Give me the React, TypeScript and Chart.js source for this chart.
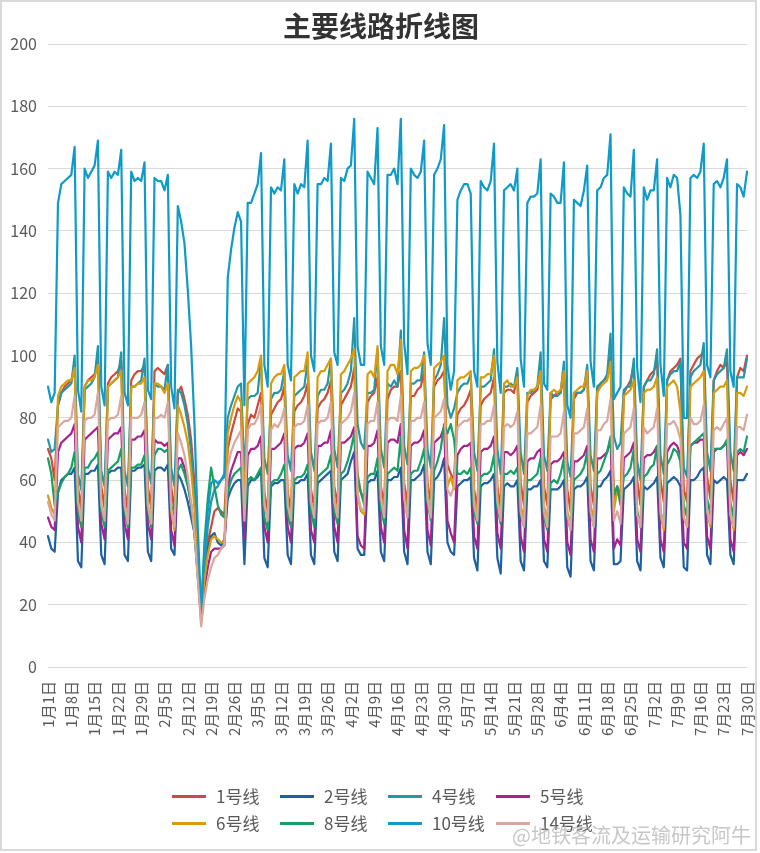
import React, { useEffect, useRef } from "react";
import { Chart, registerables } from "chart.js";

Chart.register(...registerables);

// ---- categories (daily, 1月1日 … 7月30日) ----
const MONTH_DAYS = [31, 28, 31, 30, 31, 30, 30];
const TICK_STEP = 7;
const CATEGORIES: string[] = [];
MONTH_DAYS.forEach((n, m) => {
  for (let d = 1; d <= n; d++) CATEGORIES.push(`${m + 1}月${d}日`);
});

const SERIES_NAMES = ["1号线", "2号线", "4号线", "5号线", "6号线", "8号线", "10号线", "14号线"];
const SERIES_COLORS = ["#CD4A3E", "#1E60A0", "#2496A6", "#A4238E", "#D99A0B", "#16A067", "#0F9AC8", "#D8A89E"];

// ---- series values (万人次) ----
const LINE_1 = [
  70, 67, 60, 84, 88, 90, 91, 92, 96, 58, 50,
  90, 92, 93, 94, 98, 58, 51,
  91, 93, 94, 95, 98, 57, 50,
  92, 94, 95, 95, 97, 58, 51,
  95, 96, 95, 94, 97, 58, 50,
  88, 90, 86, 81, 73, 59, 37, 17,
  33, 40, 45, 50, 51, 50, 49,
  70, 75, 79, 83, 82, 52,
  78, 81, 80, 84, 88, 56, 50,
  81, 83, 85, 86, 90, 56, 50,
  82, 84, 85, 87, 91, 57, 51,
  83, 85, 86, 88, 92, 58, 52,
  84, 86, 88, 90, 96, 62, 56, 54,
  85, 87, 88, 93, 58, 52,
  86, 89, 90, 90, 95, 59, 52,
  87, 87, 89, 90, 95, 59, 53,
  90, 92, 93, 95, 65, 62, 60,
  81, 83, 84, 86, 89, 57, 51,
  84, 86, 87, 88, 93, 58, 51,
  88, 89, 89, 88, 94, 59, 52,
  85, 87, 88, 89, 95, 58, 52,
  86, 87, 88, 88, 94, 57, 50,
  86, 88, 88, 89, 95, 58, 52,
  89, 91, 92, 93, 100, 54, 58, 55,
  88, 90, 92, 97, 60, 52,
  90, 92, 94, 95, 98, 60, 53,
  92, 95, 96, 97, 99, 57, 53,
  95, 97, 99, 100, 101, 61, 54,
  92, 95, 97, 96, 98, 60, 53,
  93, 96, 95, 100,
];

const LINE_2 = [
  42, 38, 37, 56, 60, 61, 62, 62, 64, 34, 32,
  62, 62, 63, 63, 65, 36, 33,
  62, 63, 63, 64, 64, 36, 34,
  63, 63, 64, 64, 65, 37, 34,
  63, 64, 64, 63, 65, 38, 36,
  62, 60, 57, 53, 48, 43, 32, 17,
  32, 38, 42, 43, 40, 39, 41,
  54, 57, 59, 60, 60, 33,
  58, 60, 60, 61, 63, 35, 32,
  58, 59, 59, 60, 60, 36, 33,
  59, 59, 60, 60, 62, 36, 33,
  59, 60, 61, 62, 63, 37, 34,
  60, 61, 62, 66, 69, 38, 36, 36,
  59, 60, 60, 63, 37, 34,
  60, 60, 61, 61, 64, 37, 33,
  60, 60, 61, 62, 65, 37, 33,
  60, 61, 63, 67, 40, 37, 36,
  58, 59, 60, 60, 61, 35, 31,
  58, 59, 59, 60, 62, 35, 30,
  58, 59, 58, 58, 60, 34, 31,
  57, 57, 58, 58, 60, 34, 32,
  57, 57, 57, 58, 60, 32, 29,
  57, 58, 58, 59, 61, 34, 31,
  58, 58, 60, 61, 63, 33, 33, 34,
  57, 58, 59, 61, 34, 31,
  58, 57, 58, 59, 61, 35, 32,
  59, 60, 61, 60, 58, 32, 31,
  60, 60, 61, 63, 64, 36, 33,
  60, 59, 60, 61, 60, 36, 33,
  60, 60, 60, 62,
];

const LINE_4 = [
  73, 69, 70, 84, 88, 89, 90, 91, 100, 62, 57,
  89, 90, 91, 93, 103, 63, 58,
  90, 91, 92, 93, 101, 63, 58,
  90, 90, 91, 92, 99, 64, 59,
  91, 90, 90, 89, 97, 64, 58,
  89, 88, 84, 78, 69, 55, 35, 17,
  32, 45, 53, 57, 58, 60, 61,
  80, 84, 87, 90, 91, 62,
  86, 87, 87, 88, 99, 67, 62,
  86, 88, 88, 89, 95, 68, 63,
  87, 88, 89, 90, 98, 69, 63,
  87, 89, 89, 91, 99, 70, 64,
  88, 89, 91, 95, 112, 78, 72, 70,
  88, 88, 89, 102, 70, 64,
  91, 90, 92, 90, 108, 71, 65,
  91, 91, 92, 92, 101, 70, 64,
  92, 94, 97, 112, 84, 80, 83,
  88, 90, 91, 91, 94, 69, 63,
  90, 90, 91, 92, 102, 70, 62,
  90, 90, 91, 90, 96, 69, 62,
  88, 88, 89, 90, 101, 68, 63,
  88, 87, 87, 88, 98, 66, 61,
  88, 88, 88, 89, 97, 68, 63,
  90, 91, 92, 94, 107, 74, 70, 72,
  89, 90, 90, 99, 66, 60,
  90, 92, 92, 94, 102, 68, 62,
  92, 94, 95, 95, 98, 64, 61,
  93, 95, 96, 97, 104, 69, 63,
  92, 94, 95, 96, 102, 69, 63,
  93, 93, 93, 99,
];

const LINE_5 = [
  48, 45, 44, 69, 72, 73, 74, 75, 78, 45, 40,
  73, 74, 75, 76, 77, 46, 41,
  73, 74, 75, 75, 77, 46, 41,
  73, 73, 74, 74, 76, 46, 41,
  73, 72, 72, 71, 72, 44, 39,
  67, 67, 64, 59, 52, 43, 30, 15,
  25, 32, 37, 38, 38, 38, 39,
  58, 63, 66, 69, 69, 41,
  68, 70, 70, 71, 74, 45, 40,
  70, 70, 71, 72, 75, 45, 40,
  70, 71, 71, 72, 75, 44, 40,
  71, 71, 72, 72, 76, 45, 40,
  72, 72, 73, 74, 77, 42, 39, 38,
  71, 71, 72, 76, 45, 40,
  72, 73, 73, 72, 78, 44, 38,
  71, 72, 72, 73, 76, 44, 39,
  72, 73, 74, 77, 47, 43, 40,
  68, 70, 71, 71, 72, 42, 38,
  69, 70, 70, 71, 74, 43, 38,
  69, 69, 68, 69, 71, 42, 37,
  66, 67, 67, 69, 70, 41, 37,
  65, 66, 66, 67, 69, 40, 36,
  66, 66, 67, 68, 71, 41, 37,
  67, 67, 68, 69, 73, 38, 41, 39,
  67, 68, 69, 72, 41, 37,
  67, 68, 68, 69, 71, 41, 37,
  69, 71, 72, 71, 68, 40, 38,
  71, 72, 72, 73, 73, 42, 38,
  69, 70, 70, 71, 72, 41, 37,
  68, 69, 68, 70,
];

const LINE_6 = [
  55, 51, 49, 87, 90, 91, 92, 92, 96, 52, 45,
  90, 92, 92, 93, 97, 52, 46,
  90, 91, 92, 93, 95, 52, 46,
  90, 90, 91, 91, 93, 52, 46,
  91, 91, 90, 88, 91, 50, 44,
  84, 81, 77, 72, 63, 51, 33, 15,
  28, 36, 41, 42, 41, 40, 40,
  75, 80, 84, 87, 85, 50,
  91, 92, 93, 95, 100, 53, 47,
  91, 93, 94, 94, 97, 52, 46,
  93, 94, 95, 95, 101, 53, 47,
  93, 95, 95, 97, 99, 54, 48,
  94, 95, 97, 99, 102, 55, 50, 49,
  94, 95, 93, 103, 55, 48,
  95, 97, 97, 94, 105, 56, 49,
  95, 96, 96, 97, 100, 55, 49,
  96, 97, 98, 100, 58, 61, 57,
  92, 93, 93, 94, 95, 54, 48,
  93, 93, 94, 94, 100, 54, 48,
  91, 92, 90, 90, 93, 52, 47,
  87, 89, 89, 90, 95, 52, 46,
  88, 89, 88, 89, 95, 50, 45,
  88, 89, 90, 90, 95, 52, 47,
  88, 90, 91, 92, 98, 50, 57, 53,
  87, 88, 89, 92, 50, 45,
  88, 89, 89, 90, 93, 49, 44,
  90, 91, 92, 90, 82, 48, 45,
  90, 91, 92, 93, 95, 50, 45,
  88, 89, 90, 90, 92, 49, 44,
  88, 88, 87, 90,
];

const LINE_8 = [
  67, 62, 52, 56, 59, 61, 62, 64, 69, 50, 45,
  64, 64, 66, 67, 69, 50, 45,
  63, 64, 65, 66, 70, 50, 45,
  64, 64, 65, 65, 68, 50, 45,
  68, 70, 70, 69, 70, 52, 47,
  63, 65, 62, 58, 52, 43, 29, 17,
  40, 54, 64, 58, 52, 49, 48,
  56, 60, 62, 63, 64, 48,
  60, 61, 60, 62, 64, 48, 44,
  59, 60, 60, 62, 65, 49, 45,
  60, 61, 61, 62, 65, 50, 45,
  61, 62, 63, 64, 68, 50, 46,
  62, 63, 66, 70, 75, 60, 56, 52,
  61, 62, 62, 67, 51, 46,
  62, 63, 64, 63, 74, 55, 48,
  62, 63, 63, 66, 70, 53, 47,
  63, 66, 70, 78, 75, 78, 73,
  62, 62, 63, 62, 64, 50, 46,
  61, 62, 62, 63, 68, 51, 46,
  62, 62, 63, 62, 64, 49, 45,
  60, 60, 61, 62, 67, 48, 44,
  59, 60, 59, 62, 67, 48, 44,
  60, 61, 62, 64, 69, 50, 45,
  62, 63, 66, 69, 74, 55, 58, 52,
  61, 62, 64, 70, 50, 45,
  61, 62, 64, 65, 71, 50, 46,
  65, 67, 70, 69, 66, 52, 48,
  71, 72, 73, 74, 75, 54, 49,
  70, 70, 70, 71, 73, 53, 48,
  69, 70, 69, 74,
];

const LINE_10 = [
  90, 85, 88, 149, 155, 156, 157, 158, 167, 89, 82,
  160, 157, 159, 161, 169, 90, 84,
  159, 157, 159, 158, 166, 88, 84,
  159, 156, 157, 156, 162, 89, 86,
  157, 156, 156, 153, 158, 90, 83,
  148, 143, 136, 121, 103, 78, 45, 18,
  37, 50, 59, 60, 59, 60, 62,
  125, 134, 141, 146, 143, 84,
  149, 149, 152, 155, 165, 97, 90,
  154, 152, 154, 153, 163, 97, 92,
  155, 152, 155, 154, 169, 100, 95,
  155, 155, 157, 156, 168, 101, 97,
  157, 156, 160, 161, 176, 103, 97, 97,
  159, 157, 155, 173, 103, 97,
  158, 158, 160, 155, 176, 104, 94,
  160, 158, 157, 159, 169, 104, 97,
  158, 160, 163, 174, 97, 89, 95,
  150, 153, 155, 155, 152, 95, 90,
  156, 154, 153, 156, 168, 98, 88,
  153, 154, 155, 153, 160, 99, 90,
  149, 151, 151, 152, 163, 91, 89,
  152, 151, 149, 149, 162, 84, 80,
  150, 149, 148, 153, 161, 98, 90,
  153, 154, 157, 158, 171, 86, 88, 90,
  154, 152, 151, 166, 96, 85,
  154, 150, 153, 153, 163, 97, 87,
  157, 154, 158, 157, 145, 80, 80,
  157, 158, 157, 159, 168, 97, 93,
  155, 156, 154, 157, 163, 95, 90,
  155, 154, 151, 159,
];

const LINE_14 = [
  53, 49, 47, 77, 78, 79, 79, 80, 87, 53, 47,
  79, 80, 80, 81, 88, 52, 47,
  79, 80, 80, 81, 87, 52, 46,
  80, 80, 80, 81, 85, 52, 46,
  80, 80, 81, 80, 85, 51, 45,
  75, 72, 68, 61, 53, 43, 28, 13,
  22, 28, 32, 35, 36, 38, 39,
  64, 69, 72, 74, 76, 47,
  76, 78, 78, 80, 84, 52, 47,
  76, 78, 77, 79, 83, 52, 47,
  77, 78, 78, 79, 84, 53, 48,
  78, 79, 79, 80, 85, 53, 48,
  78, 79, 80, 82, 88, 56, 51, 50,
  78, 79, 79, 85, 54, 48,
  79, 80, 80, 79, 87, 54, 48,
  79, 79, 80, 80, 85, 54, 48,
  80, 81, 82, 86, 57, 55, 58,
  77, 78, 79, 79, 80, 52, 47,
  78, 78, 79, 79, 84, 53, 47,
  77, 78, 77, 78, 82, 50, 45,
  75, 75, 76, 77, 84, 50, 45,
  74, 74, 74, 75, 82, 49, 44,
  75, 75, 76, 77, 83, 50, 45,
  76, 76, 78, 79, 86, 47, 50, 46,
  75, 76, 77, 83, 49, 45,
  77, 75, 76, 77, 83, 50, 45,
  78, 78, 79, 77, 73, 48, 45,
  80, 78, 78, 79, 84, 50, 46,
  76, 77, 76, 78, 80, 49, 45,
  77, 77, 76, 81,
];

const SERIES = [LINE_1, LINE_2, LINE_4, LINE_5, LINE_6, LINE_8, LINE_10, LINE_14];

const Y_MIN = 0;
const Y_MAX = 200;
const Y_STEP = 20;

const FONT = "'Noto Sans CJK SC', 'Noto Sans', sans-serif";

export default function App() {
  const ref = useRef<HTMLCanvasElement>(null);

  useEffect(() => {
    if (!ref.current) return;
    Chart.defaults.font.family = FONT;
    const chart = new Chart(ref.current, {
      type: "line",
      data: {
        labels: CATEGORIES,
        datasets: SERIES.map((d, i) => ({
          label: SERIES_NAMES[i],
          data: d,
          borderColor: SERIES_COLORS[i],
          backgroundColor: SERIES_COLORS[i],
          borderWidth: 2.2,
          pointRadius: 0,
          pointHoverRadius: 0,
          tension: 0,
          fill: false,
          borderJoinStyle: "round",
          borderCapStyle: "round",
          order: SERIES.length - 1 - i,
        })),
      },
      options: {
        responsive: false,
        animation: false,
        events: [],
        layout: { padding: { left: 8, right: 13, top: 44, bottom: 106 } },
        plugins: {
          legend: { display: false },
          title: { display: false },
          tooltip: { enabled: false },
        },
        scales: {
          x: {
            grid: { display: false, drawTicks: false },
            border: { display: false },
            ticks: {
              autoSkip: false,
              maxRotation: 90,
              minRotation: 90,
              padding: 14,
              color: "#595959",
              font: { size: 15 },
              callback: (_v: any, i: number) => (i % TICK_STEP === 0 ? CATEGORIES[i] : null),
            },
            afterFit: (s: any) => {
              s.height = 80;
              s.paddingLeft = 0;
              s.paddingRight = 0;
            },
          },
          y: {
            min: Y_MIN,
            max: Y_MAX,
            ticks: { stepSize: Y_STEP, padding: 11, color: "#595959", font: { size: 16 } },
            grid: { color: "#d9d9d9", lineWidth: 1, drawTicks: false },
            border: { display: false },
            afterFit: (s: any) => {
              s.width = 40;
            },
          },
        },
      },
    });
    return () => chart.destroy();
  }, []);

  return (
    <div
      style={{
        position: "absolute",
        left: 0,
        top: 0,
        width: 760,
        height: 853,
        background: "#fff",
        fontFamily: FONT,
        overflow: "hidden",
      }}
    >
      <canvas
        ref={ref}
        width={760}
        height={853}
        style={{ position: "absolute", left: 0, top: 0, width: 760, height: 853 }}
      />
      <div
        style={{
          position: "absolute",
          left: 0,
          top: 11,
          width: 762,
          textAlign: "center",
          fontSize: 28,
          fontWeight: 700,
          lineHeight: 1,
          color: "#333",
        }}
      >
        主要线路折线图
      </div>
      {SERIES_NAMES.map((n, i) => {
        const col = i % 4;
        const row = Math.floor(i / 4);
        return (
          <div
            key={n}
            style={{
              position: "absolute",
              left: 172 + 108 * col,
              top: 786 + 27 * row,
              height: 20,
              display: "flex",
              alignItems: "center",
              fontSize: 17,
              lineHeight: "20px",
              color: "#595959",
              whiteSpace: "nowrap",
            }}
          >
            <span
              style={{
                display: "inline-block",
                width: 34,
                height: 3,
                background: SERIES_COLORS[i],
                marginRight: 10,
              }}
            />
            <span>{n}</span>
          </div>
        );
      })}
      <div
        style={{
          position: "absolute",
          left: 512,
          top: 824,
          fontSize: 20,
          lineHeight: "22px",
          color: "rgba(175,175,175,0.7)",
          whiteSpace: "nowrap",
        }}
      >
        @地铁客流及运输研究阿牛
      </div>
      <div
        style={{
          position: "absolute",
          left: 0,
          top: 0,
          width: 757,
          height: 851,
          border: "2px solid #d9d9d9",
          boxSizing: "border-box",
          pointerEvents: "none",
        }}
      />
    </div>
  );
}
